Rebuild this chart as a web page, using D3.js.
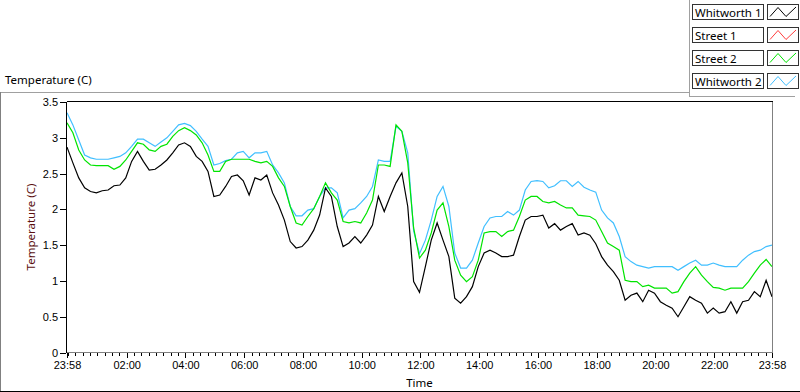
<!DOCTYPE html>
<html>
<head>
<meta charset="utf-8">
<script src="https://cdn.jsdelivr.net/npm/d3@7"></script>
<style>
    body { margin: 0; background: #fff; }
    svg { display: block; font-family: "Segoe UI", "Noto Sans", sans-serif; }
</style>
</head>
<body>
<svg id="chart" width="800" height="392"></svg>
<script>
// samples every 12 minutes from 23:58 to 23:58 next day
const stepMinutes = 12;

const seriesNames = ['Whitworth 1', 'Street 1', 'Street 2', 'Whitworth 2'];
const seriesColors = ['#000000', '#ff3c3c', '#00e400', '#40bfff'];

const whitworth1 = [
    2.87, 2.65, 2.44, 2.30, 2.25, 2.23, 2.26, 2.27, 2.33, 2.34,
    2.44, 2.67, 2.81, 2.67, 2.55, 2.56, 2.62, 2.69, 2.79, 2.90,
    2.93, 2.88, 2.74, 2.67, 2.53, 2.18, 2.20, 2.32, 2.46, 2.48,
    2.40, 2.20, 2.44, 2.41, 2.48, 2.23, 2.06, 1.85, 1.55, 1.46,
    1.48, 1.57, 1.71, 1.92, 2.30, 2.18, 1.76, 1.48, 1.53, 1.62,
    1.53, 1.64, 1.78, 2.18, 1.97, 2.18, 2.37, 2.51, 2.04, 0.99,
    0.84, 1.20, 1.57, 1.81, 1.57, 1.34, 0.76, 0.69, 0.78, 0.92,
    1.20, 1.39, 1.43, 1.39, 1.34, 1.34, 1.36, 1.62, 1.85, 1.90,
    1.90, 1.92, 1.74, 1.80, 1.71, 1.76, 1.80, 1.64, 1.67, 1.64,
    1.52, 1.34, 1.22, 1.13, 1.01, 0.73, 0.80, 0.83, 0.71, 0.87,
    0.83, 0.71, 0.66, 0.62, 0.50, 0.64, 0.78, 0.73, 0.69, 0.55,
    0.62, 0.55, 0.57, 0.71, 0.55, 0.71, 0.73, 0.85, 0.78, 1.01,
    0.78
];

// Street 1 is not visible anywhere in the picture
const street1 = [];

const street2 = [
    3.21, 3.07, 2.83, 2.69, 2.62, 2.61, 2.61, 2.61, 2.56, 2.60,
    2.69, 2.81, 2.93, 2.91, 2.83, 2.81, 2.88, 2.91, 3.02, 3.10,
    3.14, 3.10, 3.04, 2.93, 2.76, 2.53, 2.53, 2.67, 2.70, 2.70,
    2.70, 2.70, 2.67, 2.65, 2.67, 2.60, 2.44, 2.32, 2.04, 1.81,
    1.78, 1.90, 2.01, 2.18, 2.37, 2.23, 2.13, 1.83, 1.81, 1.83,
    1.81, 1.95, 2.13, 2.62, 2.62, 2.60, 3.18, 3.09, 2.65, 1.74,
    1.32, 1.43, 1.67, 1.99, 2.09, 1.76, 1.29, 1.08, 0.99, 1.06,
    1.29, 1.67, 1.69, 1.69, 1.62, 1.69, 1.71, 1.90, 2.13, 2.18,
    2.18, 2.11, 2.09, 2.11, 2.06, 2.02, 2.02, 1.92, 1.91, 1.90,
    1.85, 1.69, 1.53, 1.48, 1.43, 1.01, 0.99, 0.99, 0.92, 0.94,
    0.90, 0.90, 0.90, 0.83, 0.85, 0.99, 1.11, 1.20, 1.08, 0.99,
    0.91, 0.90, 0.87, 0.90, 0.90, 0.90, 0.99, 1.11, 1.22, 1.30,
    1.20
];

const whitworth2 = [
    3.35, 3.18, 2.97, 2.76, 2.72, 2.70, 2.70, 2.70, 2.72, 2.74,
    2.79, 2.88, 2.98, 2.98, 2.93, 2.88, 2.94, 3.00, 3.09, 3.18,
    3.20, 3.17, 3.09, 2.98, 2.88, 2.62, 2.64, 2.68, 2.70, 2.79,
    2.81, 2.72, 2.79, 2.79, 2.81, 2.62, 2.51, 2.37, 2.04, 1.91,
    1.91, 1.99, 2.01, 2.18, 2.30, 2.30, 2.23, 1.88, 1.99, 2.01,
    2.09, 2.18, 2.32, 2.69, 2.67, 2.67, 3.16, 3.09, 2.79, 1.70,
    1.38, 1.57, 1.85, 2.18, 2.32, 2.04, 1.39, 1.18, 1.18, 1.29,
    1.53, 1.76, 1.88, 1.90, 1.90, 1.97, 1.92, 1.99, 2.27, 2.39,
    2.40, 2.39, 2.30, 2.33, 2.40, 2.40, 2.32, 2.39, 2.31, 2.27,
    2.24, 1.99, 1.88, 1.81, 1.62, 1.34, 1.27, 1.22, 1.20, 1.18,
    1.20, 1.20, 1.20, 1.20, 1.15, 1.20, 1.25, 1.29, 1.22, 1.22,
    1.25, 1.22, 1.20, 1.20, 1.20, 1.29, 1.36, 1.41, 1.43, 1.48,
    1.50
];

const yTicks = [0, 0.5, 1, 1.5, 2, 2.5, 3, 3.5];
const xTickLabels = ['23:58', '02:00', '04:00', '06:00', '08:00', '10:00', '12:00',
    '14:00', '16:00', '18:00', '20:00', '22:00', '23:58'];

const plot = { left: 66.5, right: 772.5, top: 101.5, bottom: 352.5 };

const svg = d3.select('#chart');

const start = new Date(2000, 0, 1, 23, 58);
const end = new Date(2000, 0, 2, 23, 58);

const x = d3.scaleTime().domain([start, end]).range([plot.left + 0.5, plot.right - 0.5]);
const y = d3.scaleLinear().domain([0, 3.5]).range([plot.bottom, 102]);

const timeAt = i => d3.timeMinute.offset(start, i * stepMinutes);

// outer frame
const frame = svg.append('g').attr('stroke-width', 1).attr('shape-rendering', 'crispEdges');
frame.append('line').attr('x1', 0).attr('x2', 689).attr('y1', 92.5).attr('y2', 92.5).attr('stroke', '#a0a0a0');
frame.append('line').attr('x1', 689.5).attr('x2', 689.5).attr('y1', 0).attr('y2', 96).attr('stroke', '#a0a0a0');
frame.append('line').attr('x1', 689).attr('x2', 795).attr('y1', 96.5).attr('y2', 96.5).attr('stroke', '#a0a0a0');
frame.append('line').attr('x1', 0.5).attr('x2', 0.5).attr('y1', 92).attr('y2', 392).attr('stroke', '#808080');
frame.append('line').attr('x1', 0).attr('x2', 800).attr('y1', 391.5).attr('y2', 391.5).attr('stroke', '#000');

svg.append('text')
    .attr('x', 5)
    .attr('y', 84)
    .attr('font-size', 11.5)
    .attr('fill', '#000')
    .text('Temperature (C)');

// plot area frame
frame.append('line').attr('x1', plot.left).attr('x2', plot.right).attr('y1', plot.top).attr('y2', plot.top).attr('stroke', '#000');
frame.append('line').attr('x1', plot.left).attr('x2', plot.left).attr('y1', plot.top).attr('y2', plot.bottom).attr('stroke', '#000');
frame.append('line').attr('x1', plot.right).attr('x2', plot.right).attr('y1', plot.top).attr('y2', plot.bottom + 0.5).attr('stroke', '#808080');
frame.append('line').attr('x1', plot.left).attr('x2', plot.right).attr('y1', plot.bottom).attr('y2', plot.bottom).attr('stroke', '#808080');

// y axis
const yAxis = d3.axisLeft(y)
    .tickValues(yTicks)
    .tickSize(6)
    .tickPadding(2)
    .tickFormat(d3.format('~g'));

const gy = svg.append('g')
    .attr('transform', `translate(${plot.left - 0.5}, 0)`)
    .call(yAxis);
gy.select('.domain').remove();
gy.selectAll('line').attr('stroke', '#000').attr('shape-rendering', 'crispEdges');
gy.selectAll('text').attr('font-size', 11).attr('font-family', null).attr('fill', '#000');

// x axis: minor every 15 min, major every 2 hours from 02:00 to 22:00 plus both ends
const minorTicks = d3.timeMinute.every(15).range(start, end);
const majorTicks = [start].concat(
    d3.timeHour.every(2).range(new Date(2000, 0, 2, 1), new Date(2000, 0, 2, 23)),
    [end]);

const gxMinor = svg.append('g')
    .attr('transform', `translate(0, ${plot.bottom + 0.5})`)
    .call(d3.axisBottom(x).tickValues(minorTicks).tickSize(3).tickFormat(''));
gxMinor.select('.domain').remove();
gxMinor.selectAll('line').attr('stroke', '#000').attr('shape-rendering', 'crispEdges');

const gxMajor = svg.append('g')
    .attr('transform', `translate(0, ${plot.bottom + 0.5})`)
    .call(d3.axisBottom(x).tickValues(majorTicks).tickSize(5).tickPadding(3)
        .tickFormat((d, i) => xTickLabels[i]));
gxMajor.select('.domain').remove();
gxMajor.selectAll('line').attr('stroke', '#000').attr('shape-rendering', 'crispEdges');
gxMajor.selectAll('text').attr('font-size', 11).attr('font-family', null).attr('fill', '#000');

// axis titles
svg.append('text')
    .attr('x', (plot.left + plot.right) / 2)
    .attr('y', 387)
    .attr('text-anchor', 'middle')
    .attr('font-size', 11.5)
    .attr('fill', '#000')
    .text('Time');

svg.append('text')
    .attr('transform', `translate(35, ${(plot.top + plot.bottom) / 2}) rotate(-90)`)
    .attr('text-anchor', 'middle')
    .attr('font-size', 11.5)
    .attr('fill', '#5a0f0f')
    .text('Temperature (C)');

// lines
svg.append('clipPath').attr('id', 'plot-clip')
    .append('rect')
    .attr('x', plot.left + 0.5).attr('y', plot.top + 0.5)
    .attr('width', plot.right - plot.left - 1).attr('height', plot.bottom - plot.top - 1);

const line = d3.line()
    .x((d, i) => x(timeAt(i)))
    .y(d => y(d));

const seriesData = [whitworth1, street1, street2, whitworth2];

const lines = svg.append('g').attr('clip-path', 'url(#plot-clip)');

[3, 2, 1, 0].forEach(k => {
    if (!seriesData[k].length) return;
    lines.append('path')
        .datum(seriesData[k])
        .attr('fill', 'none')
        .attr('stroke', seriesColors[k])
        .attr('stroke-width', 1.2)
        .attr('d', line);
});

// legend
const legend = svg.append('g');
seriesNames.forEach((name, i) => {
    const top = 4.5 + i * 23;
    legend.append('rect')
        .attr('x', 692.5).attr('y', top)
        .attr('width', 71).attr('height', 15)
        .attr('fill', '#fff').attr('stroke', '#333')
        .attr('shape-rendering', 'crispEdges');
    legend.append('text')
        .attr('x', 695).attr('y', top + 12)
        .attr('font-size', 11.5)
        .attr('fill', '#000')
        .text(name);
    legend.append('rect')
        .attr('x', 767.5).attr('y', top)
        .attr('width', 31).attr('height', 15)
        .attr('fill', '#fff').attr('stroke', '#333')
        .attr('shape-rendering', 'crispEdges');
    legend.append('polyline')
        .attr('points', [[770, top + 12], [778, top + 3], [786, top + 12], [796, top + 2.5]].join(' '))
        .attr('fill', 'none')
        .attr('stroke', seriesColors[i])
        .attr('stroke-width', 1);
});
</script>
</body>
</html>
